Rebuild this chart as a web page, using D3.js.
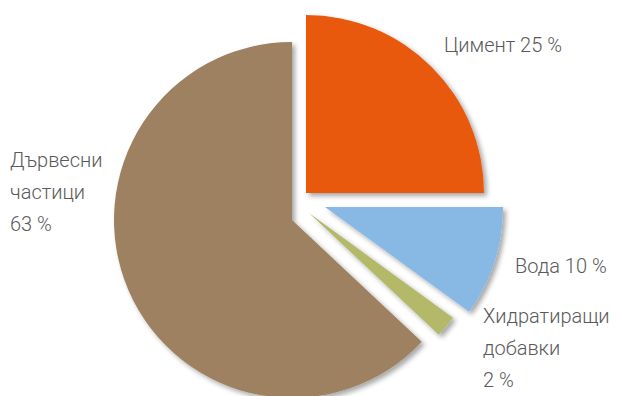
<!DOCTYPE html>
<html>
<head>
<meta charset="utf-8">
<script src="https://cdn.jsdelivr.net/npm/d3@7"></script>
<style>
  body { margin: 0; background: #fff; }
  text { font-family: "Roboto", "Liberation Sans", sans-serif; font-weight: 300; fill: #5a5a5a; }
</style>
</head>
<body>
<div id="chart"></div>
<script>
// Data
var names = ["Цимент", "Вода", "Хидратиращи добавки", "Дървесни частици"];
var values = [25, 10, 2, 63];
var colors = ["#e8580c", "#87b9e4", "#b4b96b", "#9e8160"];

// label lines per slice (how the text wraps)
var labelLines = [
  ["Цимент 25 %"],
  ["Вода 10 %"],
  ["Хидратиращи", "добавки", "2 %"],
  ["Дървесни", "частици", "63 %"]
];

// layout
var W = 617, H = 396;
var cx = 300, cy = 205, R = 178;
var explode = [[6, -12], [25, 2], [9, 8], [-8, 15]];
var labelPos = [[444, 52], [515, 273], [483, 323], [10, 167]];
var lineH = 32;

var svg = d3.select("#chart").append("svg")
    .attr("width", W)
    .attr("height", H);

var defs = svg.append("defs");
defs.append("filter")
    .attr("id", "shadow")
    .attr("x", "-10%").attr("y", "-10%")
    .attr("width", "130%").attr("height", "130%")
  .append("feDropShadow")
    .attr("dx", 3).attr("dy", 3)
    .attr("stdDeviation", 2.5)
    .attr("flood-color", "#000")
    .attr("flood-opacity", 0.35);

var pie = d3.pie().sort(null).value(function(d) { return d; });
var arc = d3.arc().innerRadius(0).outerRadius(R);

var arcs = pie(values);

svg.append("g")
    .attr("transform", "translate(" + cx + "," + cy + ")")
  .selectAll("path")
  .data(arcs)
  .enter().append("path")
    .attr("d", arc)
    .attr("transform", function(d, i) { return "translate(" + explode[i][0] + "," + explode[i][1] + ")"; })
    .style("fill", function(d, i) { return colors[i]; })
    .attr("filter", "url(#shadow)");

var labels = svg.append("g").selectAll("text")
  .data(labelLines)
  .enter().append("text")
    .attr("x", function(d, i) { return labelPos[i][0]; })
    .attr("y", function(d, i) { return labelPos[i][1]; })
    .style("font-size", "20px");

labels.selectAll("tspan")
  .data(function(d, i) { return d.map(function(t) { return {t: t, i: i}; }); })
  .enter().append("tspan")
    .attr("x", function(d) { return labelPos[d.i][0]; })
    .attr("dy", function(d, j) { return j == 0 ? 0 : lineH; })
    .text(function(d) { return d.t; });
</script>
</body>
</html>
